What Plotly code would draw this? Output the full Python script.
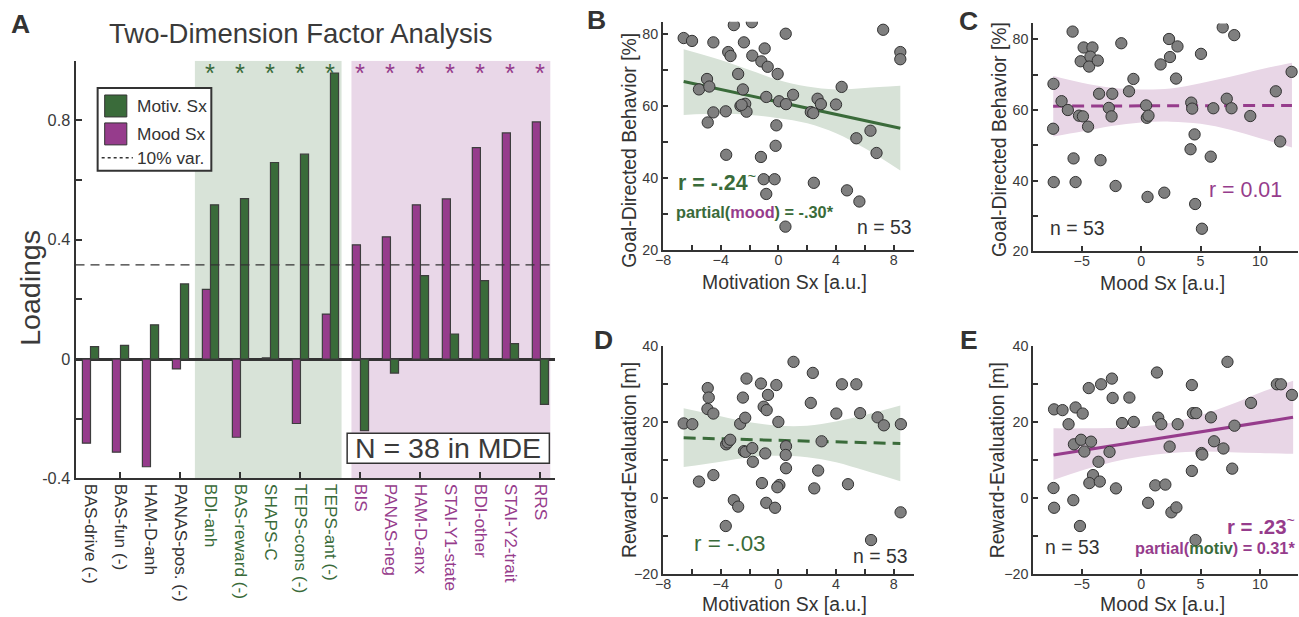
import plotly.graph_objects as go

# Figure size; the photographed page shows the figure with an 8 px page margin and
# a slight rescale, so reference pixel positions are converted to figure pixels below.
W, H = 1299, 617
SX, SY = 1299 / 1315, 617 / 633
FS = (SX + SY) / 2
FONT = "Liberation Sans, Arial, sans-serif"
GREEN = "#3a6b3a"
PURPLE = "#963c8c"
DARK = "#333333"
MARK = "#7f7f7f"
GBAND = "#d7e2d7"
PBAND = "#e8d6e6"

# ---------------- Panel A data ----------------
measures = ["BAS-drive (-)", "BAS-fun (-)", "HAM-D-anh", "PANAS-pos. (-)",
            "BDI-anh", "BAS-reward (-)", "SHAPS-C", "TEPS-cons (-)", "TEPS-ant (-)",
            "BIS", "PANAS-neg", "HAM-D-anx", "STAI-Y1-state", "BDI-other",
            "STAI-Y2-trait", "RRS"]
measure_group = ["none"] * 4 + ["motiv"] * 5 + ["mood"] * 7
mood_loadings = [-0.282, -0.312, -0.361, -0.033, 0.234, -0.262, 0.004, -0.216, 0.151,
                 0.383, 0.410, 0.517, 0.537, 0.709, 0.758, 0.795]
motiv_loadings = [0.042, 0.046, 0.115, 0.252, 0.517, 0.538, 0.659, 0.687, 0.959,
                  -0.240, -0.047, 0.280, 0.084, 0.263, 0.052, -0.152]
var10_threshold = 0.316
significant = [False] * 4 + [True] * 12

# ---------------- Panel B: motivation vs goal-directed ----------------
B_x = [-6.57, -5.99, -3.09, -1.84, -4.51, -2.39, -3.48, -3.32, -1.81, -0.95, 0.51, -1.18,
       -0.74, -0.05, -2.79, -4.95, -5.51, -4.79, -2.46, 1.02, -0.84, 0.05, 0.53, -2.30,
       -2.63, -2.21, -4.51, -3.65, -4.90, -0.14, 2.72, 2.95, 2.25, 2.42, 4.00, 4.39,
       5.41, 6.39, 6.81, 7.27, 8.46, 8.46, -3.62, -1.21, -0.19, -1.02, -0.26, -0.84,
       2.46, 4.76, 5.62, 0.49, -2.55]
B_y = [78.9, 78.1, 82.5, 83.3, 77.7, 77.7, 75.0, 73.9, 74.0, 76.0, 80.1, 72.4,
       70.9, 68.9, 68.9, 67.5, 64.6, 65.4, 64.6, 63.1, 62.5, 61.3, 60.5, 60.6,
       60.0, 58.4, 58.2, 58.5, 55.4, 54.6, 62.0, 60.5, 58.3, 58.0, 60.4, 65.3,
       51.0, 53.1, 46.9, 81.2, 75.0, 73.0, 46.4, 45.8, 48.9, 39.6, 39.6, 35.5,
       38.6, 36.5, 33.4, 26.4, 60.3]
B_fit_x = [-6.57, 8.46]
B_fit_y = [66.8, 53.8]
B_band_x = [-6.57, -4, -2, 0, 2, 4, 6, 8.46]
B_band_hi = [75.8, 72.8, 70.0, 67.2, 65.4, 64.6, 65.0, 65.6]
B_band_lo = [57.5, 57.8, 57.5, 56.6, 55.2, 52.4, 48.2, 42.0]

# ---------------- Panel C: mood vs goal-directed ----------------
C_x = [-5.77, -7.38, -6.70, -6.17, -7.41, -5.23, -4.90, -4.47, -5.09, -4.84, -4.10, -4.27,
       -4.38, -3.65, -3.54, -2.72, -2.49, -2.43, -1.67, -1.02, -0.65, -5.69, -3.42, -7.36,
       -5.52, -2.15, 0.54, 1.95, 0.42, 0.48, 0.62, 1.64, 2.35, 2.43, 3.06, 2.94,
       4.22, 4.30, 4.50, 4.16, 5.04, 5.86, 6.08, 4.55, 5.12, 6.87, 7.84, 7.21,
       7.61, 9.19, 11.34, 11.71, 12.67]
C_y = [82.2, 67.4, 62.5, 60.0, 54.7, 58.4, 58.2, 55.3, 73.8, 77.7, 77.7, 75.1,
       72.3, 74.0, 64.6, 60.6, 58.2, 64.6, 78.9, 65.3, 68.8, 46.3, 45.8, 39.6,
       39.6, 38.5, 35.4, 36.6, 61.3, 57.8, 58.4, 72.9, 80.1, 75.0, 78.0, 68.9,
       62.1, 60.4, 53.1, 48.9, 75.9, 46.8, 60.5, 33.4, 26.4, 83.4, 81.2, 63.2,
       60.5, 58.3, 65.3, 51.1, 70.8]
C_fit_x = [-7.41, 12.7]
C_fit_y = [61.1, 61.3]
C_band_x = [-7.4, -5, -2.5, 0, 2.5, 5, 7.5, 10, 12.7]
C_band_hi = [69.6, 67.7, 66.3, 65.8, 66.1, 67.6, 69.4, 71.5, 73.4]
C_band_lo = [52.5, 53.9, 55.5, 56.5, 56.7, 56.1, 54.4, 52.0, 49.4]

# ---------------- Panel D: motivation vs reward evaluation ----------------
D_x = [-6.57, -5.97, -4.90, -4.83, -4.92, -4.51, -5.51, -4.51, -3.62, -3.51, -3.34, -3.65,
       -3.09, -2.79, -2.65, -2.46, -2.30, -2.21, -2.39, -2.28, -1.77, -1.81, -1.21, -1.02,
       -0.81, -0.72, -0.91, -1.14, -0.84, -0.23, -0.14, 0.00, 0.07, -0.07, 0.53, 0.51,
       0.53, 1.05, 2.39, 2.25, 3.00, 2.76, 2.49, 4.02, 4.41, 4.83, 5.41, 5.67,
       6.88, 7.32, 6.43, 8.50, 8.48]
D_y = [19.6, 19.4, 28.9, 26.4, 23.4, 22.2, 4.3, 6.0, 14.1, 14.6, 15.3, -7.4,
       -0.6, -2.3, 19.5, 26.4, 21.1, 31.4, 12.3, 12.1, 9.5, 13.1, 30.1, 24.0,
       23.1, 27.1, 11.7, 3.9, -1.3, -2.6, 29.7, 20.0, 3.4, 2.8, 13.6, 11.3,
       7.8, 35.8, 32.9, 25.0, 14.9, 7.2, 2.5, 22.2, 29.9, 3.6, 29.9, 22.3,
       21.2, 19.1, -11.1, 19.4, -3.8]
D_fit_x = [-6.57, 8.46]
D_fit_y = [15.8, 14.3]
D_band_x = [-6.57, -4, -2, 0, 2, 4, 6, 8.46]
D_band_hi = [23.6, 21.5, 19.9, 19.0, 19.0, 20.1, 21.8, 24.3]
D_band_lo = [8.1, 9.5, 10.7, 11.1, 10.7, 9.4, 7.2, 4.4]

# ---------------- Panel E: mood vs reward evaluation ----------------
E_x = [-7.33, -6.62, -6.11, -7.38, -7.33, -5.52, -4.92, -5.66, -5.06, -4.78, -4.22, -4.41,
       -3.37, -2.46, -2.40, -3.59, -4.05, -4.36, -3.48, -2.66, -2.12, -5.71, -5.15, -1.61,
       -0.99, -0.62, 0.59, 1.33, 1.44, 1.70, 1.19, 2.04, 2.40, 2.55, 2.97, 3.08,
       4.27, 4.36, 4.64, 4.27, 4.58, 5.09, 5.15, 5.88, 6.14, 6.93, 7.27, 7.67,
       7.86, 9.25, 11.43, 11.77, 12.70]
E_y = [23.3, 23.1, 19.4, 2.6, -2.6, 23.8, 22.2, 14.1, 15.3, 12.2, 14.8, 28.9,
       29.9, 31.4, 26.3, 9.5, 6.0, 3.9, 4.3, 12.1, 2.5, -0.6, -7.4, 19.7,
       26.4, 20.0, -1.3, 33.0, 21.1, 19.4, 3.3, 3.5, 13.5, -3.8, -2.5, 19.4,
       29.7, 22.3, 22.3, 7.1, -11.1, 11.8, 11.4, 21.2, 14.9, 13.0, 35.8, 7.7,
       19.0, 25.0, 29.9, 29.9, 27.1]
E_fit_x = [-7.38, 12.79]
E_fit_y = [11.3, 21.2]
E_band_x = [-7.38, -5, -2.5, 0, 2.5, 5, 7.5, 10, 12.8]
E_band_hi = [18.3, 18.3, 18.4, 18.8, 19.8, 21.8, 24.5, 27.7, 30.8]
E_band_lo = [4.7, 7.2, 9.4, 10.9, 11.8, 12.2, 12.0, 11.8, 11.6]


def px(x):
    return (x / SX - 8) / W


def py(y):
    return 1 - (y / SY - 8) / H


def fs(f):
    return round(f / FS, 1)


fig = go.Figure()

# ---------- Panel A bars ----------
idx = list(range(1, len(measures) + 1))
fig.add_trace(go.Bar(x=idx, y=mood_loadings, name="Mood Sx", xaxis="x", yaxis="y",
                     marker=dict(color=PURPLE, line=dict(color="#3d3d3d", width=1.2)),
                     showlegend=False))
fig.add_trace(go.Bar(x=idx, y=motiv_loadings, name="Motiv. Sx", xaxis="x", yaxis="y",
                     marker=dict(color=GREEN, line=dict(color="#3d3d3d", width=1.2)),
                     showlegend=False))
# overlay axis carrying the tick marks (every second measure)
fig.add_trace(go.Scatter(x=[None], y=[None], xaxis="x6", yaxis="y", showlegend=False,
                         hoverinfo="skip"))


def scatter_panel(xa, ya, xs, ys, fx, fy, bx, bhi, blo, color, band, dash):
    fig.add_trace(go.Scatter(x=bx, y=blo, xaxis=xa, yaxis=ya, mode="lines",
                             line=dict(width=0, shape="spline"), showlegend=False,
                             hoverinfo="skip"))
    fig.add_trace(go.Scatter(x=bx, y=bhi, xaxis=xa, yaxis=ya, mode="lines",
                             line=dict(width=0, shape="spline"), fill="tonexty",
                             fillcolor=band, showlegend=False, hoverinfo="skip"))
    fig.add_trace(go.Scatter(x=fx, y=fy, xaxis=xa, yaxis=ya, mode="lines",
                             line=dict(color=color, width=3, dash=dash), showlegend=False))
    fig.add_trace(go.Scatter(x=xs, y=ys, xaxis=xa, yaxis=ya, mode="markers",
                             marker=dict(size=11.3, color=MARK,
                                         line=dict(color="#333333", width=1)),
                             showlegend=False))


scatter_panel("x2", "y2", B_x, B_y, B_fit_x, B_fit_y, B_band_x, B_band_hi, B_band_lo,
              GREEN, GBAND, "solid")
scatter_panel("x3", "y3", C_x, C_y, C_fit_x, C_fit_y, C_band_x, C_band_hi, C_band_lo,
              PURPLE, PBAND, "12px,7px")
scatter_panel("x4", "y4", D_x, D_y, D_fit_x, D_fit_y, D_band_x, D_band_hi, D_band_lo,
              GREEN, GBAND, "12px,7px")
scatter_panel("x5", "y5", E_x, E_y, E_fit_x, E_fit_y, E_band_x, E_band_hi, E_band_lo,
              PURPLE, PBAND, "solid")

axis_common = dict(showline=True, linecolor=DARK, linewidth=2, ticks="inside",
                   tickcolor=DARK, ticklen=5, tickwidth=1.5, showgrid=False,
                   zeroline=False, tickfont=dict(size=fs(14), color="#3a3a3a", family=FONT),
                   fixedrange=True)


def lab_color(g):
    return {"none": DARK, "motiv": GREEN, "mood": PURPLE}[g]


ticktext = [f"<span style='color:{lab_color(g)}'>{m}</span>"
            for m, g in zip(measures, measure_group)]

xA_range = [0.5, 16.5]
minor_x = dict(tickvals=[-6, -2, 2, 6], ticks="inside", ticklen=5, tickwidth=1.5,
               tickcolor=DARK)
layout = dict(
    width=W, height=H, margin=dict(l=0, r=0, t=0, b=0),
    paper_bgcolor="white", plot_bgcolor="rgba(0,0,0,0)",
    font=dict(family=FONT, color=DARK),
    barmode="group", bargap=0.46, bargroupgap=0,
    showlegend=False,
    xaxis=dict(axis_common, domain=[px(75), px(552)], range=xA_range, anchor="y",
               tickmode="array", tickvals=idx, ticktext=ticktext, ticks="",
               tickangle=90, tickfont=dict(size=fs(17), family=FONT)),
    xaxis6=dict(domain=[px(75), px(552)], range=xA_range, overlaying="x", anchor="y",
                tickmode="array", tickvals=idx[1::2], showticklabels=False,
                ticks="inside", ticklen=6, tickwidth=1.5, tickcolor=DARK,
                showline=False, showgrid=False, zeroline=False, fixedrange=True),
    yaxis=dict(axis_common, domain=[py(479.3), py(60.7)], range=[-0.4, 1.0], anchor="x",
               tickmode="array", tickvals=[-0.4, 0, 0.4, 0.8],
               ticktext=["-0.4", "0", "0.4", "0.8"], ticklen=6,
               tickfont=dict(size=fs(16), family=FONT, color="#3a3a3a"),
               minor=dict(tickvals=[-0.2, 0.2, 0.6, 1.0], ticks="inside", ticklen=6,
                          tickwidth=1.5, tickcolor=DARK),
               zeroline=True, zerolinecolor=DARK, zerolinewidth=2.5),
    xaxis2=dict(axis_common, domain=[px(659), px(908)], range=[-8, 9.38], anchor="y2",
                tickvals=[-8, -4, 0, 4, 8], minor=minor_x, ticklabelstandoff=-4),
    yaxis2=dict(axis_common, domain=[py(250), py(21.7)], range=[20, 83.4], anchor="x2",
                tickvals=[20, 40, 60, 80],
                minor=dict(tickvals=[30, 50, 70], ticks="inside", ticklen=5,
                           tickwidth=1.5, tickcolor=DARK)),
    xaxis3=dict(axis_common, domain=[px(1027), px(1290)], range=[-9.08, 13.2], anchor="y3",
                tickvals=[-5, 0, 5, 10], ticklabelstandoff=-4),
    yaxis3=dict(axis_common, domain=[py(251.7), py(23.3)], range=[20, 84.5], anchor="x3",
                tickvals=[20, 40, 60, 80],
                minor=dict(tickvals=[30, 50, 70], ticks="inside", ticklen=5,
                           tickwidth=1.5, tickcolor=DARK)),
    xaxis4=dict(axis_common, domain=[px(659), px(908)], range=[-8, 9.38], anchor="y4",
                tickvals=[-8, -4, 0, 4, 8], minor=minor_x, ticklabelstandoff=-4),
    yaxis4=dict(axis_common, domain=[py(575), py(346.5)], range=[-20, 40], anchor="x4",
                tickvals=[-20, 0, 20, 40],
                minor=dict(tickvals=[-10, 10, 30], ticks="inside", ticklen=5,
                           tickwidth=1.5, tickcolor=DARK)),
    xaxis5=dict(axis_common, domain=[px(1027), px(1290)], range=[-9.08, 13.2], anchor="y5",
                tickvals=[-5, 0, 5, 10], ticklabelstandoff=-4),
    yaxis5=dict(axis_common, domain=[py(575), py(346.5)], range=[-20, 40], anchor="x5",
                tickvals=[-20, 0, 20, 40],
                minor=dict(tickvals=[-10, 10, 30], ticks="inside", ticklen=5,
                           tickwidth=1.5, tickcolor=DARK)),
)
fig.update_layout(**layout)

shapes = []
# shaded groups in panel A
shapes.append(dict(type="rect", xref="x", yref="y", x0=4.48, x1=9.37, y0=-0.4, y1=1.0,
                   fillcolor="#d8e3d8", line=dict(width=0), layer="below"))
shapes.append(dict(type="rect", xref="x", yref="y", x0=9.70, x1=16.33, y0=-0.4, y1=1.0,
                   fillcolor="#e9d7e8", line=dict(width=0), layer="below"))
# 10% variance threshold
shapes.append(dict(type="line", xref="x", yref="y", x0=0.5, x1=16.5,
                   y0=var10_threshold, y1=var10_threshold,
                   line=dict(color=DARK, width=1.2, dash="9px,6px"), layer="above"))
# legend box (panel A)
shapes.append(dict(type="rect", xref="paper", yref="paper", x0=px(97), x1=px(210),
                   y0=py(171), y1=py(88), fillcolor="white",
                   line=dict(color=DARK, width=2)))
shapes.append(dict(type="rect", xref="paper", yref="paper", x0=px(104), x1=px(126),
                   y0=py(117), y1=py(95), fillcolor=GREEN, line=dict(color=DARK, width=1)))
shapes.append(dict(type="rect", xref="paper", yref="paper", x0=px(104), x1=px(126),
                   y0=py(145), y1=py(123), fillcolor=PURPLE, line=dict(color=DARK, width=1)))
shapes.append(dict(type="line", xref="paper", yref="paper", x0=px(101), x1=px(132),
                   y0=py(158), y1=py(158), line=dict(color=DARK, width=1.5, dash="dot")))
# N = 38 box
shapes.append(dict(type="rect", xref="paper", yref="paper", x0=px(345), x1=px(546),
                   y0=py(464), y1=py(434), fillcolor="white",
                   line=dict(color=DARK, width=1.5)))
fig.update_layout(shapes=shapes)

ann = []


def text(x, y, s, size, color=DARK, xanchor="center", yanchor="middle", angle=0):
    ann.append(dict(xref="paper", yref="paper", x=px(x), y=py(y), text=s, showarrow=False,
                    xanchor=xanchor, yanchor=yanchor, textangle=angle,
                    font=dict(size=fs(size), color=color, family=FONT)))


# panel letters
text(20, 24, "<b>A</b>", 26)
text(593, 20, "<b>B</b>", 26)
text(963, 21, "<b>C</b>", 26)
text(600, 341, "<b>D</b>", 26)
text(963, 341, "<b>E</b>", 26)

# panel A texts
text(299, 33, "Two-Dimension Factor Analysis", 27, color="#3a3a3a")
text(29, 288, "Loadings", 28, angle=-90, color="#3a3a3a")
text(134, 106, "Motiv. Sx", 17, xanchor="left")
text(134, 134, "Mood Sx", 17, xanchor="left")
text(134, 158, "10% var.", 17, xanchor="left")
text(445.5, 449, "N = 38 in MDE", 28, color="#3a3a3a")
for i, (sig, g) in enumerate(zip(significant, measure_group)):
    if sig:
        ann.append(dict(xref="x", yref="y", x=idx[i], y=0.958, text="*", showarrow=False,
                        xanchor="center", yanchor="middle",
                        font=dict(size=fs(25), color=lab_color(g), family=FONT)))

# axis titles for scatter panels
text(779.5, 282, "Motivation Sx [a.u.]", 19)
text(1155, 283, "Mood Sx [a.u.]", 19)
text(779.5, 605, "Motivation Sx [a.u.]", 19)
text(1155, 605, "Mood Sx [a.u.]", 19)
text(625, 150, "Goal-Directed Behavior [%]", 19, angle=-90)
text(993, 140, "Goal-Directed Behavior [%]", 19, angle=-90)
text(625, 461, "Reward-Evaluation [m]", 19, angle=-90)
text(991, 461, "Reward-Evaluation [m]", 19, angle=-90)

# stats annotations
text(672, 181, "<b>r = -.24</b><sup>~</sup>", 21, color=GREEN, xanchor="left")
text(670, 212, f"<b>partial(<span style='color:{PURPLE}'>mood</span>) = -.30*</b>", 16,
     color=GREEN, xanchor="left")
text(907, 227, "n = 53", 19, xanchor="right")
text(1276, 190, "r = 0.01", 21, color=PURPLE, xanchor="right")
text(1042, 228, "n = 53", 19, xanchor="left")
text(688, 545, "r = -.03", 22, color=GREEN, xanchor="left")
text(903, 557, "n = 53", 19, xanchor="right")
text(1289, 526, "<b>r = .23</b><sup>~</sup>", 20, color=PURPLE, xanchor="right")
text(1289, 549.5, f"<b>partial(<span style='color:{GREEN}'>motiv</span>) = 0.31*</b>", 16,
     color=PURPLE, xanchor="right")
text(1037, 548, "n = 53", 19, xanchor="left")

fig.update_layout(annotations=ann)
fig.write_html("out.html")
